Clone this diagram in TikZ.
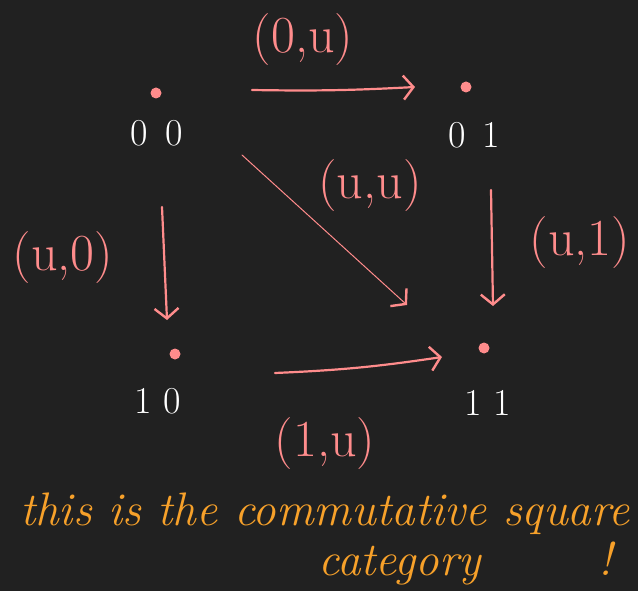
\documentclass[tikz,border=0pt]{standalone}
\usepackage{fontspec}
\setmainfont{Latin Modern Roman}
\usetikzlibrary{arrows.meta}
\definecolor{bg}{HTML}{212121}
\definecolor{pinkc}{HTML}{FF8C8C}
\definecolor{orangec}{HTML}{F7A12A}
\tikzset{
  dotn/.style={circle,fill=pinkc,inner sep=0pt,minimum size=11pt},
  objlbl/.style={text=white,font=\fontsize{38}{40}\selectfont,inner sep=0pt},
  arrlbl/.style={text=pinkc,font=\fontsize{52}{56}\selectfont,inner sep=0pt},
  morph/.style={draw=pinkc,line width=2.2pt,line cap=round,-{Straight Barb[length=10pt,width=24pt,line width=2.4pt]}},
  note/.style={text=orangec,font=\fontsize{47}{50}\selectfont\itshape,inner sep=0pt,anchor=base west}
}
\begin{document}
\begin{tikzpicture}[x=1pt,y=-1pt]
\fill[bg] (0,0) rectangle (638,591);
\useasboundingbox (0,0) rectangle (638,591);
% objects
\node[dotn] (d00) at (156,93) {};
\node[dotn] (d01) at (466,87) {};
\node[dotn] (d10) at (175,354) {};
\node[dotn] (d11) at (484,348) {};
\node[objlbl] (l00) at (157,133) {0\hspace{18pt}0};
\node[objlbl] (l01) at (474,135) {0\hspace{16pt}1};
\node[objlbl] (l10) at (158,401) {1\hspace{12pt}0};
\node[objlbl] (l11) at (488,403) {1\hspace{12pt}1};
% arrow end points
\coordinate (a1s) at (252,90);
\coordinate (a1e) at (415,87);
\coordinate (a2s) at (242,155);
\coordinate (a2e) at (407,305);
\coordinate (a3s) at (162,207);
\coordinate (a3e) at (167,320);
\coordinate (a4s) at (491,190);
\coordinate (a4e) at (493,306);
\coordinate (a5s) at (275,373);
\coordinate (a5e) at (442,357);
% morphisms
\draw[morph] (a1s) to[bend right=2] (a1e);
\draw[morph,line width=1pt] (a2s) -- (a2e);
\draw[morph] (a3s) -- (a3e);
\draw[morph] (a4s) -- (a4e);
\draw[morph] (a5s) to[bend right=3] (a5e);
% morphism labels
\node[arrlbl] (m1) at (303,40) {(0,u)};
\node[arrlbl] (m2) at (370,186) {(u,u)};
\node[arrlbl] (m3) at (63,258) {(u,0)};
\node[arrlbl] (m4) at (580,243) {(u,1)};
\node[arrlbl] (m5) at (325,444) {(1,u)};
% note
\node[note] (n1) at (20,525) {this is the commutative square};
\node[note] (n2) at (318,575) {category\hspace{118pt}!};
\end{tikzpicture}
\end{document}
